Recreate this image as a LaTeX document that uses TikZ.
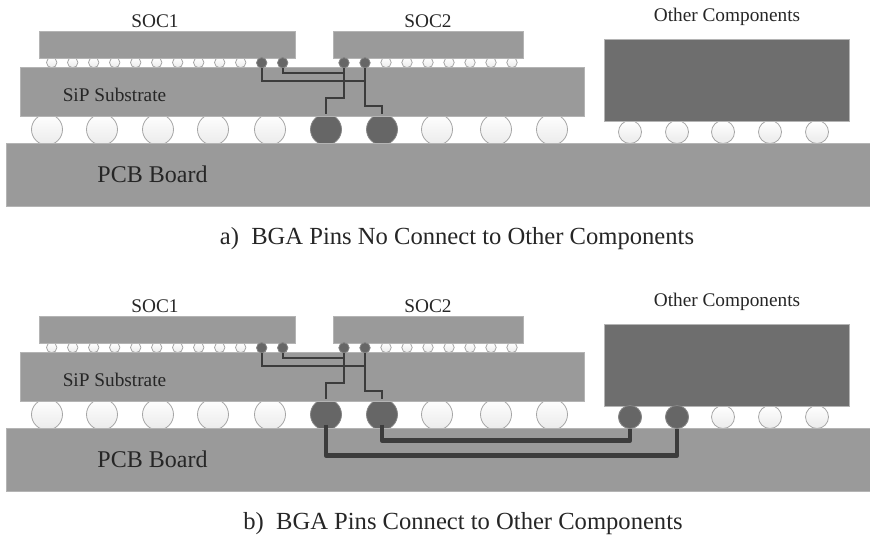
\documentclass[tikz,border=0pt]{standalone}
\usepackage{fontspec}
\setmainfont{Liberation Serif}
\definecolor{boardgray}{HTML}{9A9A9A}
\definecolor{edgegray}{HTML}{B4B4B4}
\definecolor{darkpart}{HTML}{6E6E6E}
\definecolor{padgray}{HTML}{666666}
\definecolor{wiregray}{HTML}{3C3C3C}
\tikzset{
    board/.style={draw=edgegray, line width=0.8pt, fill=boardgray, anchor=north west, inner sep=0pt},
    lightpad/.style={circle, inner sep=0pt, draw=black!35, line width=0.8pt, top color=white, bottom color=black!8},
    darkpad/.style={circle, inner sep=0pt, draw=padgray!80, line width=0.8pt, fill=padgray},
    tinypin/.style={minimum size=10.4pt},
    bigpin/.style={minimum size=31pt},
    sidepin/.style={minimum size=23pt},
    thinwire/.style={draw=wiregray, line width=2pt},
    thickwire/.style={draw=wiregray, line width=4.6pt, line join=round},
    partlabel/.style={font=\fontsize{19.3}{21}\selectfont, text=black!85},
    caption/.style={font=\fontsize{24.6}{27}\selectfont, text=black!85},
}
\begin{document}
\begin{tikzpicture}[x=1pt, y=-1pt]
    \useasboundingbox (0,0) rectangle (870,537);
    \foreach \p/\dy in {a/0, b/285} {
        \begin{scope}[yshift=-\dy pt, name prefix=\p-]
            % pins under the two chips
            \foreach \i in {1,...,10} \node[lightpad, tinypin] (soca\i) at ({30.7+21*\i},62.5) {};
            \foreach \i in {3,...,9} \node[lightpad, tinypin] (socb\i) at ({323+21*\i},62.5) {};
            % BGA balls
            \foreach \x [count=\i] in {47,102,158,213,270} \node[lightpad, bigpin] (bga\i) at (\x,129.5) {};
            \node[darkpad, bigpin] (bga6) at (326,129.5) {};
            \node[darkpad, bigpin] (bga7) at (382,129.5) {};
            \foreach \x [count=\i from 8] in {437,496,552} \node[lightpad, bigpin] (bga\i) at (\x,129.5) {};
            % balls of the other components, the dark ones only in b
            \foreach \x [count=\i] in {630,677,723,770,817} \node[lightpad, sidepin] (side\i) at (\x,132) {};
            % boards
            \node[board, minimum width=256pt, minimum height=27pt] (soc1) at (39,31) {};
            \node[board, minimum width=190pt, minimum height=27pt] (soc2) at (333,31) {};
            \node[board, minimum width=564pt, minimum height=49pt] (sip) at (20,67) {};
            \node[board, minimum width=864pt, minimum height=63pt] (pcb) at (6,143) {};
            \node[board, fill=darkpart, minimum width=245pt, minimum height=82pt] (other) at (604,39) {};
            % dark pins sit on top
            \foreach \i in {11,12} \node[darkpad, tinypin] (soca\i) at ({30.7+21*\i},62.8) {};
            \foreach \i in {1,2} \node[darkpad, tinypin] (socb\i) at ({323+21*\i},62.8) {};
            % labels
            \node[partlabel] (soc1text) at (155,21) {SOC1};
            \node[partlabel] (soc2text) at (428,21) {SOC2};
            \node[partlabel] (othertext) at (727,17) {Other Components};
            \node[partlabel] (siptext) at (114.5,95) {SiP Substrate};
            \node[font=\fontsize{24}{26}\selectfont, text=black!85] (pcbtext) at (152.5,174) {PCB Board};
            % routing in the substrate
            \draw[thinwire] (soca11.south) -- ++(0,13) -| (socb2.south);
            \draw[thinwire] (soca12.south) -- ++(0,5) -| (socb1.south);
            \draw[thinwire] (socb1.south) -- ++(0,30) -| (bga6.north);
            \draw[thinwire] (socb2.south) -- ++(0,38) -| (bga7.north);
        \end{scope}
    }
    \node[darkpad, sidepin] (b-side1) at (630,417) {};
    \node[darkpad, sidepin] (b-side2) at (677,417) {};
    % routing in the PCB
    \draw[thickwire] (b-bga7.center) ++(0,10) -- ++(0,16) -| (b-side1.south);
    \draw[thickwire] (b-bga6.center) ++(0,10) -- ++(0,31) -| (b-side2.south);
    \node[caption] (captiona) at (457,239) {a)\ \ BGA Pins No Connect to Other Components};
    \node[caption] (captionb) at (463,524) {b)\ \ BGA Pins Connect to Other Components};
\end{tikzpicture}
\end{document}
